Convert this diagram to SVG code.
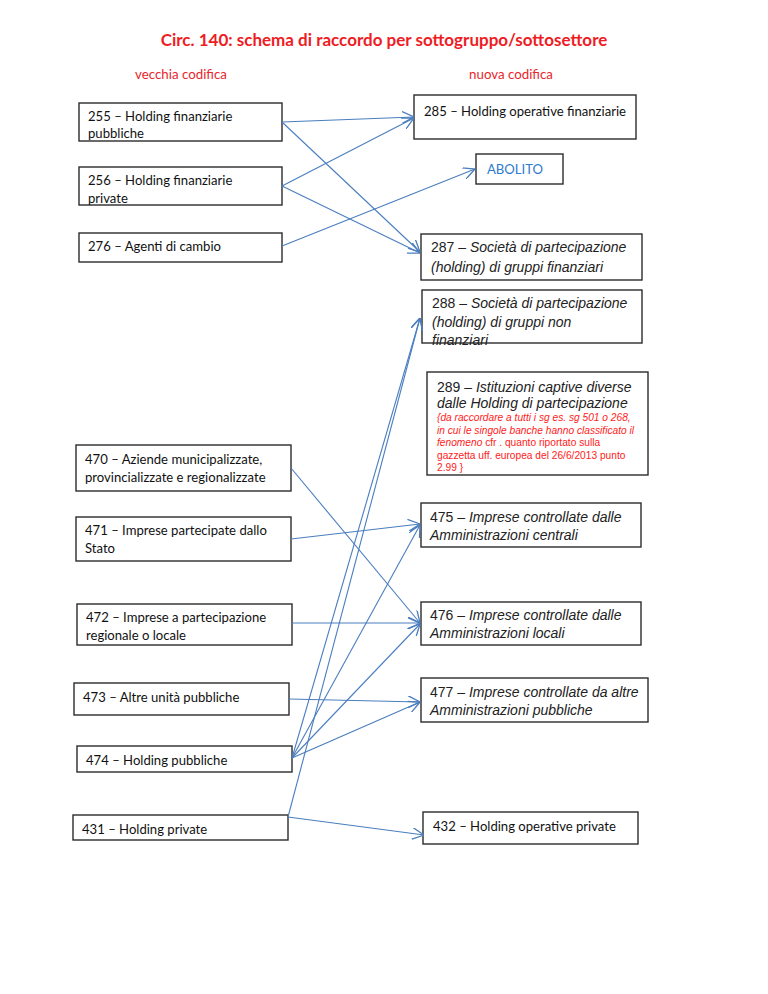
<svg xmlns="http://www.w3.org/2000/svg" width="768" height="994" viewBox="0 0 768 994">
<defs>
<style>
.box{fill:#fff;stroke:#2b2b2b;stroke-width:1.4}
.cal{font-family:Lato,"Open Sans","Liberation Sans",sans-serif;font-size:13.1px;fill:#111}
.ar{font-family:"Liberation Sans",Arial,sans-serif;font-size:14px;fill:#222}
.it{font-style:italic}
.red{font-family:"Liberation Sans",Arial,sans-serif;font-size:10.2px;fill:#ff1a1a}
.title{font-family:Lato,"Liberation Sans",sans-serif;font-size:17px;font-weight:bold;fill:#ee1c24}
.sub{font-family:Lato,"Liberation Sans",sans-serif;font-size:13.3px;fill:#e8262c}
.con{fill:none;stroke:#4a7ebf;stroke-width:1.1}
</style>
<marker id="arr" markerWidth="12" markerHeight="12" refX="10" refY="5" orient="auto" markerUnits="userSpaceOnUse" viewBox="0 0 10 10">
<path d="M0,0 L10,5 L0,10" fill="none" stroke="#4a7ebf" stroke-width="1.1"/>
</marker>
</defs>
<rect width="768" height="994" fill="#fff"/>
<text class="title" x="384" y="46" text-anchor="middle">Circ. 140: schema di raccordo per sottogruppo/sottosettore</text>
<text class="sub" x="181" y="79" text-anchor="middle">vecchia codifica</text>
<text class="sub" x="511" y="79" text-anchor="middle">nuova codifica</text>

<g id="n255"><rect class="box" x="79" y="103" width="203" height="38"/><text class="cal" x="88" y="121">255 – Holding finanziarie</text><text class="cal" x="88" y="138">pubbliche</text></g>
<g id="n256"><rect class="box" x="79" y="167" width="203" height="38"/><text class="cal" x="88" y="185">256 – Holding finanziarie</text><text class="cal" x="88" y="203">private</text></g>
<g id="n276"><rect class="box" x="79" y="233" width="203" height="29"/><text class="cal" x="88" y="251">276 – Agenti di cambio</text></g>
<g id="n470"><rect class="box" x="76" y="445" width="215" height="46"/><text class="cal" x="85" y="464">470 – Aziende municipalizzate,</text><text class="cal" x="85" y="482">provincializzate e regionalizzate</text></g>
<g id="n471"><rect class="box" x="76" y="517" width="215" height="44"/><text class="cal" x="85" y="535">471 – Imprese partecipate dallo</text><text class="cal" x="85" y="553">Stato</text></g>
<g id="n472"><rect class="box" x="77" y="604" width="215" height="41"/><text class="cal" x="86" y="622">472 – Imprese a partecipazione</text><text class="cal" x="86" y="640">regionale o locale</text></g>
<g id="n473"><rect class="box" x="74" y="683" width="215" height="32"/><text class="cal" x="83" y="702">473 – Altre unità pubbliche</text></g>
<g id="n474"><rect class="box" x="77" y="746" width="215" height="26"/><text class="cal" x="86" y="765">474 – Holding pubbliche</text></g>
<g id="n431"><rect class="box" x="73" y="815" width="215" height="25"/><text class="cal" x="82" y="834">431 – Holding private</text></g>

<g id="n285"><rect class="box" x="414" y="95" width="222" height="44"/><text class="cal" x="424" y="116">285 – Holding operative finanziarie</text></g>
<g id="nABOLITO"><rect class="box" x="476" y="154" width="87" height="30"/><text class="cal" x="487" y="174" style="fill:#2e7bcf">ABOLITO</text></g>
<g id="n287"><rect class="box" x="421" y="234" width="221" height="46"/><text class="ar" x="431" y="252">287 – <tspan class="it">Società di partecipazione</tspan></text><text class="ar it" x="431" y="272">(holding) di gruppi finanziari</text></g>
<g id="n288"><rect class="box" x="422" y="290" width="220" height="53"/><text class="ar" x="432" y="308">288 – <tspan class="it">Società di partecipazione</tspan></text><text class="ar it" x="432" y="327">(holding) di gruppi non</text><text class="ar it" x="432" y="345">finanziari</text></g>
<g id="n289"><rect class="box" x="427" y="372" width="221" height="103"/><text class="ar" x="437" y="392">289 – <tspan class="it">Istituzioni captive diverse</tspan></text><text class="ar it" x="437" y="408">dalle Holding di partecipazione</text>
<text class="red it" x="437" y="421">{da raccordare a tutti i sg  es. sg 501 o 268,</text>
<text class="red it" x="437" y="433.5">in cui le singole banche hanno classificato il</text>
<text class="red" x="437" y="446"><tspan class="it">fenomeno</tspan> cfr . quanto riportato sulla</text>
<text class="red" x="437" y="458.5">gazzetta uff. europea del 26/6/2013 punto</text>
<text class="red" x="437" y="471">2.99 }</text></g>
<g id="n475"><rect class="box" x="421" y="503" width="220" height="44"/><text class="ar" x="430" y="522">475 – <tspan class="it">Imprese controllate dalle</tspan></text><text class="ar it" x="430" y="540">Amministrazioni centrali</text></g>
<g id="n476"><rect class="box" x="421" y="602" width="220" height="43"/><text class="ar" x="430" y="620">476 – <tspan class="it">Imprese controllate dalle</tspan></text><text class="ar it" x="430" y="638">Amministrazioni locali</text></g>
<g id="n477"><rect class="box" x="421" y="678" width="227" height="44"/><text class="ar" x="430" y="697">477 – <tspan class="it">Imprese controllate da altre</tspan></text><text class="ar it" x="430" y="715">Amministrazioni pubbliche</text></g>
<g id="n432"><rect class="box" x="423" y="812" width="215" height="32"/><text class="cal" x="433" y="831">432 – Holding operative private</text></g>

<g id="connectors">
<path class="con" marker-end="url(#arr)" d="M282,122 L414,117"/>
<path class="con" marker-end="url(#arr)" d="M282,122 L420,252"/>
<path class="con" marker-end="url(#arr)" d="M282,186 L414,118"/>
<path class="con" marker-end="url(#arr)" d="M282,186 L420,253"/>
<path class="con" marker-end="url(#arr)" d="M282,246 L475,169"/>
<path class="con" marker-end="url(#arr)" d="M291,468 L420,623"/>
<path class="con" marker-end="url(#arr)" d="M291,539 L420,524"/>
<path class="con" marker-end="url(#arr)" d="M292,623 L420,623"/>
<path class="con" marker-end="url(#arr)" d="M289,699 L420,702"/>
<path class="con" marker-end="url(#arr)" d="M292,758 L420,702"/>
<path class="con" marker-end="url(#arr)" d="M292,758 L420,624"/>
<path class="con" marker-end="url(#arr)" d="M292,758 L420,525"/>
<path class="con" marker-end="url(#arr)" d="M292,758 L420,318"/>
<path class="con" marker-end="url(#arr)" d="M288,817 L420,318"/>
<path class="con" marker-end="url(#arr)" d="M288,817 L424,835"/>
</g>
</svg>
